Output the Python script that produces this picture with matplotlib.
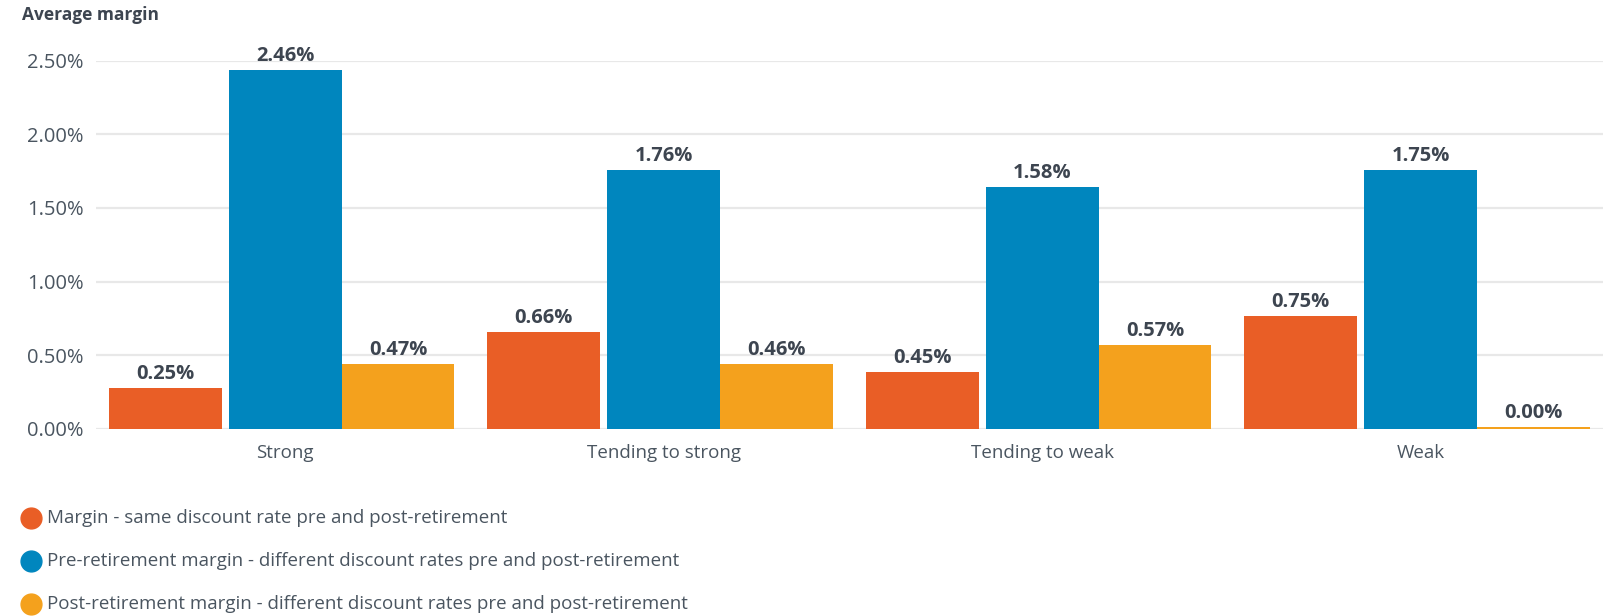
import numpy as np
import matplotlib.pyplot as plt
from matplotlib.lines import Line2D

plt.rcParams['font.family'] = ['Open Sans', 'DejaVu Sans']

# data
categories = ['Strong', 'Tending to strong', 'Tending to weak', 'Weak']
series_names = [
    'Margin - same discount rate pre and post-retirement',
    'Pre-retirement margin - different discount rates pre and post-retirement',
    'Post-retirement margin - different discount rates pre and post-retirement',
]
same_rate = [0.276, 0.66, 0.385, 0.766]
pre_ret = [2.437, 1.757, 1.642, 1.757]
post_ret = [0.44, 0.44, 0.569, 0.012]
same_labels = ['0.25%', '0.66%', '0.45%', '0.75%']
pre_labels = ['2.46%', '1.76%', '1.58%', '1.75%']
post_labels = ['0.47%', '0.46%', '0.57%', '0.00%']
yticks = [0, 0.5, 1.0, 1.5, 2.0, 2.5]

colors = ['#E95E26', '#0086BE', '#F4A11D']
text_col = '#3D4550'
tick_col = '#4A5560'

W, H = 1603, 616
fig = plt.figure(figsize=(W / 100, H / 100), dpi=100)
# axes placed in pixel coordinates
left, right, top, bottom = 96, 1603, 60.7, 428.7
ax = fig.add_axes([left / W, 1 - bottom / H, (right - left) / W, (bottom - top) / H])

x = np.arange(len(categories))
bw = 0.298
offsets = [-0.317, 0.0, 0.298]
values = [same_rate, pre_ret, post_ret]
labels = [same_labels, pre_labels, post_labels]

for vals, labs, off, c in zip(values, labels, offsets, colors):
    bars = ax.bar(x + off, vals, width=bw, color=c, zorder=3)
    for b, lab in zip(bars, labs):
        ax.text(b.get_x() + b.get_width() / 2, b.get_height() + 0.025, lab,
                ha='center', va='bottom', fontsize=14.5, fontweight='bold',
                color=text_col, zorder=4)

ax.set_xlim(-0.5, 3.482)
ax.set_ylim(0, 2.5)
ax.set_yticks(yticks)
ax.set_yticklabels([f'{v:.2f}%' for v in yticks])
ax.set_xticks(x)
ax.set_xticklabels(categories)
ax.tick_params(axis='both', length=0, labelsize=13.5, labelcolor=tick_col)
ax.tick_params(axis='y', pad=9, labelsize=14.5)
ax.tick_params(axis='x', pad=11)
for s in ax.spines.values():
    s.set_visible(False)
ax.grid(axis='y', color='#E8E8E8', linewidth=1.6, zorder=0)
ax.set_axisbelow(True)

fig.text(22 / W, 1 - 15 / H, 'Average margin', fontsize=12.5, fontweight='bold',
         color=text_col, ha='left', va='center')

# legend
legend_y = [518, 561, 604]
for name, c, ly in zip(series_names, colors, legend_y):
    fig.add_artist(Line2D([31 / W], [1 - ly / H], marker='o', markersize=15,
                          color=c, linestyle='none'))
    fig.text(47 / W, 1 - ly / H, name, fontsize=13.5, color=tick_col,
             ha='left', va='center')

fig.savefig('out.png', dpi=100)
